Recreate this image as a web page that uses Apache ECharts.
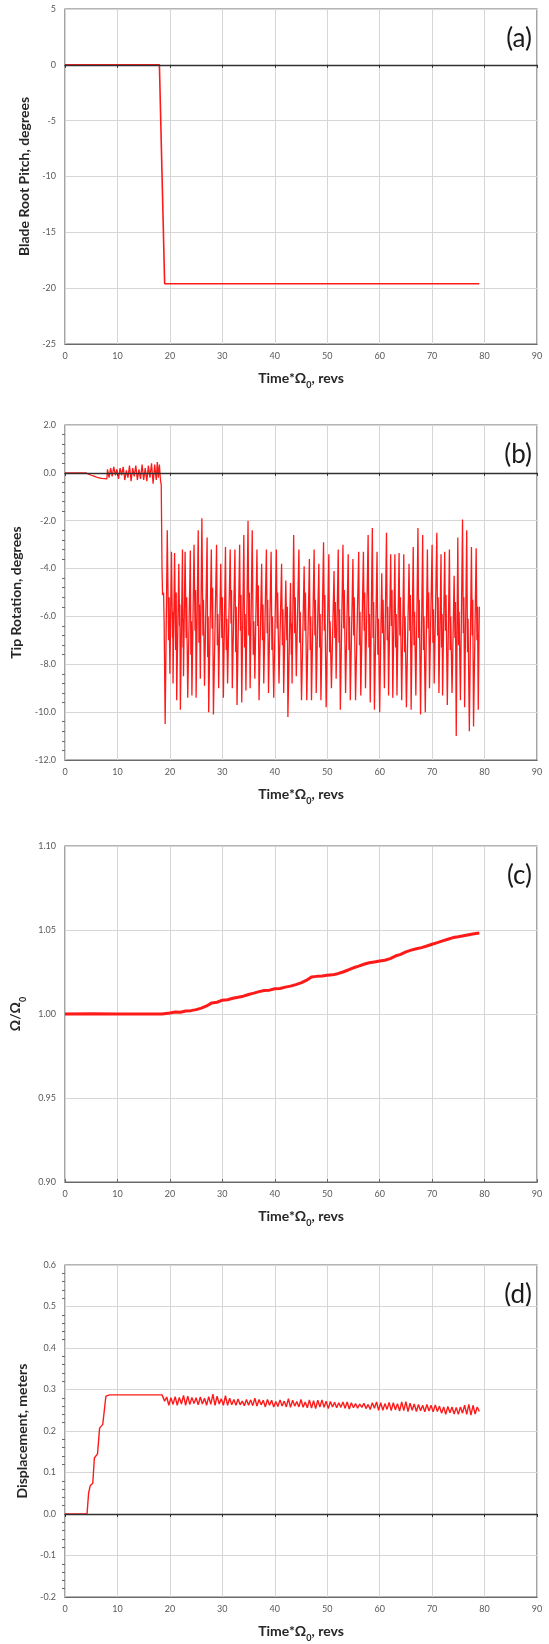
<!DOCTYPE html>
<html><head><meta charset="utf-8">
<script src="https://cdn.jsdelivr.net/npm/echarts@6/dist/echarts.min.js"></script>
<style>html,body{margin:0;padding:0;background:#fff}#c{width:549px;height:1644px}</style>
</head><body><div id="c"></div>
<script>
// ---------- data ----------
const xRange = {min: 0, max: 90, interval: 10};
const panelLabels = ['(a)', '(b)', '(c)', '(d)'];
const yTitles = ['Blade Root Pitch, degrees', 'Tip Rotation, degrees', '{a|Ω/Ω}{s|0}', 'Displacement, meters'];
const yRanges = [
  {min: -25, max: 5, interval: 5, dec: 0},
  {min: -12, max: 2, interval: 2, dec: 1},
  {min: 0.90, max: 1.10, interval: 0.05, dec: 2},
  {min: -0.2, max: 0.6, interval: 0.1, dec: 1}
];

const pitch = [[0,0],[18,0],[19,-19.6],[79,-19.6]];

const tipRotation = [
 [0,0],[4,0],[4.5,-0.05],[5,-0.1],[5.5,-0.14],[6,-0.18],[6.5,-0.21],[7,-0.23],[7.5,-0.24],[8,-0.25],
 [8.1,0.15],[8.4,-0.2],[8.7,0.2],[9,-0.15],[9.3,0.25],[9.6,-0.1],[9.9,0.15],[10.2,-0.25],[10.5,0.2],[10.8,-0.1],
 [11.1,0.25],[11.4,-0.3],[11.7,0.1],[12,-0.2],[12.3,0.3],[12.6,-0.35],[12.9,0.2],[13.2,-0.15],[13.5,0.3],[13.8,-0.3],
 [14.1,0.15],[14.4,-0.25],[14.7,0.35],[15,-0.3],[15.3,0.2],[15.6,-0.35],[15.9,0.3],[16.2,-0.2],[16.5,0.4],[16.8,-0.45],
 [17.1,0.35],[17.4,-0.3],[17.6,0.45],[17.8,-0.2],[18.0,0.35],[18.2,-0.3],[18.35,-0.5],
 [18.5,-4.0],[18.6,-5.1],[18.8,-5.0],[18.9,-6.2],[19.1,-10.5],
 [19.5,-2.4],[19.75,-7.0],[19.85,-5.2],[20.0,-8.4],[20.3,-3.3],[20.5,-6.9],[20.55,-5.8],[20.6,-8.8],[20.9,-3.35],[21.1,-7.4],
 [21.2,-5.0],[21.3,-9.5],[21.7,-3.8],[21.85,-6.4],[21.9,-5.5],[22.0,-9.9],[22.4,-3.2],[22.5,-7.3],[22.55,-6.1],[22.6,-8.5],
 [22.9,-3.3],[23.1,-6.9],[23.2,-5.2],[23.4,-9.4],[23.9,-3.25],[24.0,-7.6],[24.1,-6.2],[24.2,-9.3],[24.6,-3.0],[24.8,-6.6],
 [24.9,-4.9],[25.0,-9.4],[25.4,-2.4],[25.55,-7.1],[25.65,-5.5],[25.8,-8.6],[26.1,-1.9],[26.3,-6.8],[26.4,-5.3],[26.6,-8.9],
 [27.1,-2.7],[27.2,-7.7],[27.3,-6.0],[27.4,-10.0],[27.9,-3.2],[28.05,-6.5],[28.15,-4.8],[28.3,-10.1],[28.9,-3.0],[29.05,-7.2],
 [29.15,-5.9],[29.3,-9.0],[29.7,-3.8],[29.9,-6.9],[30.0,-5.2],[30.2,-9.4],[30.6,-3.1],[30.75,-7.4],[30.85,-6.1],[31.0,-8.8],
 [31.5,-3.2],[31.65,-6.3],[31.75,-4.9],[31.9,-9.0],[32.4,-3.2],[32.55,-7.5],[32.65,-5.6],[32.8,-9.7],[33.3,-3.0],[33.45,-6.6],
 [33.55,-5.1],[33.7,-9.6],[34.1,-2.6],[34.25,-7.3],[34.35,-5.9],[34.5,-9.1],[34.9,-2.0],[35.05,-6.8],[35.15,-5.0],[35.3,-9.0],
 [35.7,-2.4],[35.9,-7.6],[36.0,-6.2],[36.2,-8.6],[36.6,-3.2],[36.75,-6.4],[36.85,-4.7],[37.0,-9.5],[37.5,-3.8],[37.65,-7.0],
 [37.75,-5.5],[37.9,-8.8],[38.4,-3.2],[38.55,-6.7],[38.65,-5.3],[38.8,-9.2],[39.3,-3.3],[39.45,-7.4],[39.55,-6.0],[39.8,-9.4],
 [40.3,-3.2],[40.45,-6.5],[40.55,-5.0],[40.8,-8.8],[41.3,-3.8],[41.45,-7.2],[41.55,-5.7],[41.7,-9.2],[42.1,-4.5],[42.3,-7.0],
 [42.4,-5.6],[42.5,-10.2],[43.0,-4.6],[43.15,-7.6],[43.2,-6.3],[43.3,-8.8],[43.6,-2.6],[43.8,-6.7],[43.9,-5.2],[44.1,-8.5],
 [44.6,-3.2],[44.75,-7.1],[44.85,-5.8],[45.1,-9.5],[45.6,-3.9],[45.75,-6.6],[45.85,-5.0],[46.1,-9.5],[46.6,-3.6],[46.75,-7.4],
 [46.85,-6.0],[47.0,-9.5],[47.5,-3.2],[47.65,-6.8],[47.75,-5.3],[47.9,-9.2],[48.4,-3.8],[48.55,-7.3],[48.65,-5.9],[48.8,-9.5],
 [49.3,-2.9],[49.45,-6.6],[49.55,-5.1],[49.8,-9.8],[50.3,-3.4],[50.45,-7.5],[50.55,-6.2],[50.8,-9.0],[51.3,-4.1],[51.45,-6.9],
 [51.55,-5.4],[51.7,-8.6],[52.1,-3.2],[52.25,-7.1],[52.35,-5.7],[52.5,-9.9],[53.0,-3.0],[53.15,-6.5],[53.25,-4.9],[53.5,-9.2],
 [54.0,-3.4],[54.15,-7.4],[54.25,-6.0],[54.4,-9.5],[54.9,-3.6],[55.05,-6.8],[55.15,-5.2],[55.4,-9.5],[56.0,-3.3],[56.15,-7.2],
 [56.25,-5.8],[56.4,-9.3],[56.9,-3.3],[57.05,-6.6],[57.15,-5.0],[57.3,-9.0],[57.8,-2.6],[57.95,-7.3],[58.05,-5.9],[58.2,-9.6],
 [58.6,-2.3],[58.75,-6.9],[58.85,-5.4],[59.0,-9.9],[59.5,-3.3],[59.65,-7.6],[59.75,-6.1],[60.0,-10.0],[60.4,-4.2],[60.55,-6.7],
 [60.65,-5.3],[60.9,-9.0],[61.3,-2.5],[61.45,-7.0],[61.55,-5.6],[61.7,-9.3],[62.1,-3.4],[62.25,-6.4],[62.35,-4.9],[62.5,-9.4],
 [62.9,-3.4],[63.05,-7.3],[63.15,-5.9],[63.3,-9.3],[63.7,-3.35],[63.85,-6.8],[63.95,-5.2],[64.2,-9.5],[64.6,-3.4],[64.75,-7.5],
 [64.85,-6.0],[65.1,-9.8],[65.6,-3.8],[65.75,-6.6],[65.85,-5.1],[66.0,-9.9],[66.4,-3.1],[66.55,-7.2],[66.65,-5.8],[66.9,-9.3],
 [67.3,-2.3],[67.45,-6.9],[67.55,-5.3],[67.8,-10.1],[68.2,-2.6],[68.35,-7.4],[68.45,-6.0],[68.7,-10.0],[69.1,-3.2],[69.25,-6.5],
 [69.35,-5.0],[69.5,-9.0],[70.0,-3.0],[70.15,-7.1],[70.25,-5.7],[70.4,-8.8],[70.9,-2.5],[71.05,-6.8],[71.15,-5.2],[71.3,-9.2],
 [71.7,-3.4],[71.8,-7.3],[71.9,-5.9],[72.0,-9.3],[72.4,-3.3],[72.55,-6.6],[72.65,-5.1],[72.9,-9.7],[73.3,-3.2],[73.45,-7.4],
 [73.55,-6.0],[73.8,-9.2],[74.2,-4.3],[74.35,-6.9],[74.45,-5.4],[74.6,-11.0],[74.9,-2.7],[75.05,-7.2],[75.15,-5.8],[75.4,-9.5],
 [75.8,-1.95],[75.95,-6.7],[76.05,-5.2],[76.2,-9.8],[76.6,-2.4],[76.75,-7.5],[76.85,-6.1],[77.1,-10.8],[77.5,-3.1],[77.65,-6.8],
 [77.75,-5.3],[77.9,-10.6],[78.4,-3.15],[78.55,-7.0],[78.65,-5.6],[78.8,-9.9],[79.0,-5.6]
];

const speedRatio = [
 [0,1.000],[5,1.0001],[10,1.0000],[15,1.0000],[18.5,1.0000],[20,1.0006],[21,1.0012],[22,1.0010],[23,1.0018],[24,1.0020],
 [25,1.0026],[26,1.0035],[27,1.0048],[28,1.0066],[29,1.0070],[30,1.0082],[31,1.0085],[32,1.0094],[33,1.0100],[34,1.0106],
 [35,1.0116],[36,1.0124],[37,1.0133],[38,1.0140],[39,1.0142],[40,1.0150],[41,1.0152],[42,1.0160],[43,1.0166],[44,1.0175],
 [45,1.0185],[46,1.0200],[47,1.0220],[48,1.0224],[49,1.0226],[50,1.0230],[51,1.0233],[52,1.0240],[53,1.0250],[54,1.0262],
 [55,1.0275],[56,1.0285],[57,1.0296],[58,1.0305],[59,1.0310],[60,1.0315],[61,1.0320],[62,1.0330],[63,1.0345],[64,1.0355],
 [65,1.0370],[66,1.0380],[67,1.0388],[68,1.0395],[69,1.0405],[70,1.0415],[71,1.0425],[72,1.0435],[73,1.0445],[74,1.0455],
 [75,1.0460],[76,1.0466],[77,1.0472],[78,1.0478],[79,1.0482]
];

const displacement = [
 [0,0],[4.2,0],[4.5,0.05],[4.8,0.068],[5.3,0.074],[5.6,0.135],[6.2,0.145],[6.6,0.207],[7.2,0.216],[7.8,0.284],
 [8.5,0.287],[10,0.287],[12,0.287],[14,0.287],[16,0.287],[18.5,0.287],
 [19.0,0.272],[19.4,0.282],[19.8,0.262],[20.2,0.280],[20.6,0.264],[21.0,0.283],[21.4,0.262],[21.8,0.281],[22.2,0.265],[22.6,0.286],
 [23.0,0.262],[23.4,0.284],[23.8,0.264],[24.2,0.281],[24.6,0.266],[25.0,0.280],[25.4,0.263],[25.8,0.282],[26.2,0.265],[26.6,0.279],
 [27.0,0.262],[27.4,0.283],[27.8,0.264],[28.2,0.289],[28.6,0.262],[29.0,0.284],[29.4,0.265],[29.8,0.278],[30.2,0.262],[30.6,0.285],
 [31.0,0.262],[31.4,0.279],[31.8,0.263],[32.2,0.276],[32.6,0.262],[33.0,0.277],[33.4,0.263],[33.8,0.272],[34.2,0.261],[34.6,0.276],
 [35.0,0.262],[35.4,0.275],[35.8,0.261],[36.2,0.279],[36.6,0.260],[37.0,0.276],[37.4,0.263],[37.8,0.274],[38.2,0.258],[38.6,0.276],
 [39.0,0.262],[39.4,0.274],[39.8,0.258],[40.2,0.271],[40.6,0.259],[41.0,0.275],[41.4,0.260],[41.8,0.272],[42.2,0.258],[42.6,0.278],
 [43.0,0.257],[43.4,0.274],[43.8,0.260],[44.2,0.271],[44.6,0.258],[45.0,0.276],[45.4,0.257],[45.8,0.270],[46.2,0.256],[46.6,0.275],
 [47.0,0.255],[47.4,0.273],[47.8,0.254],[48.2,0.274],[48.6,0.258],[49.0,0.275],[49.4,0.257],[49.8,0.272],[50.2,0.254],[50.6,0.271],
 [51.0,0.258],[51.4,0.269],[51.8,0.256],[52.2,0.268],[52.6,0.257],[53.0,0.270],[53.4,0.255],[53.8,0.270],[54.2,0.253],[54.6,0.268],
 [55.0,0.256],[55.4,0.266],[55.8,0.255],[56.2,0.265],[56.6,0.257],[57.0,0.267],[57.4,0.254],[57.8,0.264],[58.2,0.252],[58.6,0.268],
 [59.0,0.255],[59.4,0.270],[59.8,0.250],[60.2,0.268],[60.6,0.250],[61.0,0.266],[61.4,0.252],[61.8,0.269],[62.2,0.249],[62.6,0.268],
 [63.0,0.251],[63.4,0.266],[63.8,0.248],[64.2,0.270],[64.6,0.249],[65.0,0.271],[65.4,0.247],[65.8,0.267],[66.2,0.250],[66.6,0.265],
 [67.0,0.247],[67.4,0.264],[67.8,0.249],[68.2,0.262],[68.6,0.246],[69.0,0.264],[69.4,0.248],[69.8,0.262],[70.2,0.246],[70.6,0.263],
 [71.0,0.247],[71.4,0.260],[71.8,0.243],[72.2,0.258],[72.6,0.240],[73.0,0.259],[73.4,0.244],[73.8,0.258],[74.2,0.241],[74.6,0.257],
 [75.0,0.240],[75.4,0.258],[75.8,0.243],[76.2,0.262],[76.6,0.240],[77.0,0.264],[77.4,0.238],[77.8,0.262],[78.2,0.241],[78.6,0.258],
 [79.0,0.247]
];

const seriesData = [pitch, tipRotation, speedRatio, displacement];

// ---------- layout / style ----------
const FONT = 'Lato, "Open Sans", sans-serif';
const gridTops = [9, 425, 846, 1265];
const gridH = [335, 335, 336, 336];
const yNameGaps = [34, 36, 38, 31];
const lineWidths = [1.6, 1.3, 3, 1.4];
const hasZeroLine = [true, true, false, true];
const hasMinor = [false, true, false, true];

const grids = [], xAxes = [], yAxes = [], series = [], graphics = [];
const xName = '{a|Time*Ω}{s|0}{a|, revs}';
const richName = {
  a: {fontFamily: FONT, fontSize: 14, fontWeight: 'bold', color: '#262626', lineHeight: 17},
  s: {fontFamily: FONT, fontSize: 9, fontWeight: 'bold', color: '#262626', lineHeight: 9, verticalAlign: 'bottom', padding: [0,0,-3,0]}
};

for (let i = 0; i < 4; i++) {
  grids.push({left: 65, width: 472, top: gridTops[i], height: gridH[i], show: true,
    borderColor: '#6a6a6a', borderWidth: 1.2, backgroundColor: 'transparent'});
  xAxes.push({type: 'value', gridIndex: i, min: xRange.min, max: xRange.max, interval: xRange.interval,
    position: 'bottom',
    axisLine: {show: true, onZero: false, lineStyle: {color: '#6a6a6a', width: 1.2}},
    axisTick: {show: !hasZeroLine[i], length: 3, inside: true, lineStyle: {color: '#6a6a6a'}},
    axisLabel: {show: true, fontFamily: FONT, fontSize: 9, color: '#595959', margin: 8},
    splitLine: {show: true, lineStyle: {color: '#d6d6d6', width: 1}},
    name: xName, nameLocation: 'middle', nameGap: 26,
    nameTextStyle: {rich: richName}
  });
  if (hasZeroLine[i]) {
    xAxes.push({type: 'value', gridIndex: i, min: xRange.min, max: xRange.max, interval: xRange.interval,
      position: 'bottom',
      axisLine: {show: true, onZero: true, lineStyle: {color: '#303030', width: 1.3}},
      axisTick: {show: true, length: 3, inside: false, lineStyle: {color: '#303030'}},
      axisLabel: {show: false}, splitLine: {show: false}, z: 5
    });
  }
  const yr = yRanges[i];
  yAxes.push({type: 'value', gridIndex: i, min: yr.min, max: yr.max, interval: yr.interval,
    axisLine: {show: false},
    axisTick: {show: false},
    minorTick: {show: hasMinor[i], splitNumber: 5, length: 3, lineStyle: {color: '#6a6a6a'}},
    axisLabel: {fontFamily: FONT, fontSize: 9, color: '#595959', margin: 9,
      formatter: v => v.toFixed(yr.dec)},
    splitLine: {show: true, lineStyle: {color: '#d6d6d6', width: 1}},
    name: yTitles[i], nameLocation: 'middle', nameGap: yNameGaps[i],
    nameTextStyle: {fontFamily: FONT, fontSize: 14, fontWeight: 'bold', color: '#262626',
      rich: {a: {fontFamily: FONT, fontSize: 14, fontWeight: 'bold', color: '#262626', lineHeight: 17},
             s: {fontFamily: FONT, fontSize: 9, fontWeight: 'bold', color: '#262626', lineHeight: 9, verticalAlign: 'bottom', padding: [0,0,-3,0]}}}
  });
}

let xi = 0;
for (let i = 0; i < 4; i++) {
  series.push({type: 'line', xAxisIndex: xi, yAxisIndex: i, data: seriesData[i], showSymbol: false,
    lineStyle: {color: '#ff1a1a', width: lineWidths[i]}, itemStyle: {color: '#ff1a1a'},
    animation: false, z: 3});
  xi += hasZeroLine[i] ? 2 : 1;
  graphics.push({type: 'text', right: 549 - 532, top: gridTops[i] + 17,
    style: {text: panelLabels[i], font: '26px ' + FONT, fill: '#1a1a1a', textAlign: 'right'}});
}

const chart = echarts.init(document.getElementById('c'), null, {renderer: 'canvas'});
chart.setOption({
  animation: false,
  grid: grids, xAxis: xAxes, yAxis: yAxes, series: series, graphic: graphics
});
</script>
</body></html>
